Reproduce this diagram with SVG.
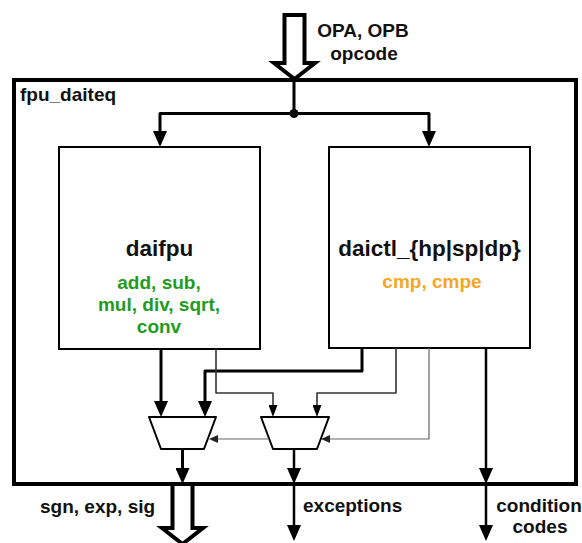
<svg xmlns="http://www.w3.org/2000/svg" width="582" height="543" viewBox="0 0 582 543">
  <style>
    .lbl { font-family: "Liberation Sans", Arial, Helvetica, sans-serif; font-weight: bold; font-size: 19px; fill: #111; }
    .big { font-size: 22.5px; }
    .ops { fill: #1e9c1e; }
    .cmp { fill: #f5a623; }
    .box { fill: #fff; stroke: #000; stroke-width: 2; }
    .outer { fill: none; stroke: #000; stroke-width: 4; }
    .bus { fill: #fff; stroke: #000; stroke-width: 4; stroke-linejoin: miter; }
    .mux { fill: #fff; stroke: #000; stroke-width: 2; stroke-linejoin: round; }
    .thick { fill: none; stroke: #000; stroke-width: 3; stroke-linejoin: round; }
    .mid { fill: none; stroke: #000; stroke-width: 2.5; }
    .thin { fill: none; stroke: #333; stroke-width: 1.6; stroke-linejoin: round; }
    .faint { fill: none; stroke: #666; stroke-width: 1.2; stroke-linejoin: round; }
  </style>
  <defs>
    <marker id="ah" markerUnits="userSpaceOnUse" markerWidth="16" markerHeight="14" viewBox="0 -7 16 14" refX="0" refY="0" orient="auto">
      <path d="M0,-7 L16,0 L0,7 Z" fill="#000"/>
    </marker>
    <marker id="as" markerUnits="userSpaceOnUse" markerWidth="12" markerHeight="9" viewBox="0 -4.5 12 9" refX="0" refY="0" orient="auto">
      <path d="M0,-4.5 L12,0 L0,4.5 Z" fill="#000"/>
    </marker>
    <marker id="at" markerUnits="userSpaceOnUse" markerWidth="9" markerHeight="8" viewBox="0 -4 9 8" refX="0" refY="0" orient="auto">
      <path d="M0,-4 L9,0 L0,4 Z" fill="#222"/>
    </marker>
  </defs>

  <!-- top-level module boundary -->
  <g id="fpu_daiteq">
    <rect class="outer" x="14" y="80" width="562" height="404"/>
    <text class="lbl" x="20" y="101">fpu_daiteq</text>
  </g>

  <!-- operand / opcode input bus -->
  <g id="input_bus">
    <polygon class="bus" points="284.5,15 304.5,15 304.5,63 315,63 294.5,79 274,63 284.5,63"/>
    <text class="lbl" x="363" y="37" text-anchor="middle">OPA, OPB</text>
    <text class="lbl" x="364" y="60" text-anchor="middle">opcode</text>
  </g>

  <!-- arithmetic unit -->
  <g id="daifpu">
    <rect class="box" x="59" y="147" width="201" height="202"/>
    <text class="lbl big" x="159.5" y="256" text-anchor="middle">daifpu</text>
    <text class="lbl ops" x="159" y="289" text-anchor="middle">add, sub,</text>
    <text class="lbl ops" x="159" y="311" text-anchor="middle">mul, div, sqrt,</text>
    <text class="lbl ops" x="159" y="333" text-anchor="middle">conv</text>
  </g>

  <!-- compare unit -->
  <g id="daictl">
    <rect class="box" x="329" y="147" width="201" height="201"/>
    <text class="lbl big" x="429.5" y="256" text-anchor="middle">daictl_{hp|sp|dp}</text>
    <text class="lbl cmp" x="432" y="288" text-anchor="middle">cmp, cmpe</text>
  </g>

  <!-- result multiplexers -->
  <g id="mux_result">
    <polygon class="mux" points="149,417 216,417 204,449 161,449"/>
  </g>
  <g id="mux_exceptions">
    <polygon class="mux" points="261,417 329,417 317,449 273,449"/>
  </g>

  <!-- output bus -->
  <g id="output_bus">
    <polygon class="bus" points="172.5,484 192.5,484 192.5,528 203,528 182.5,544 162,528 172.5,528"/>
    <text class="lbl" x="40" y="513">sgn, exp, sig</text>
  </g>

  <g id="output_labels">
    <text class="lbl" x="303" y="512">exceptions</text>
    <text class="lbl" x="539" y="512" text-anchor="middle">condition</text>
    <text class="lbl" x="540" y="533" text-anchor="middle">codes</text>
  </g>

  <g id="connectors">
    <!-- input fan-out -->
    <path class="thick" d="M294,80 V113.5"/>
    <path class="thick" d="M294,113.5 H160 V131" marker-end="url(#ah)"/>
    <path class="thick" d="M294,113.5 H429 V131" marker-end="url(#ah)"/>
    <circle cx="294" cy="113.5" r="4.5" fill="#000"/>

    <!-- results into the result mux -->
    <path class="thick" d="M161,349 V401" marker-end="url(#ah)"/>
    <path class="thick" d="M362,348 V371 H205 V401" marker-end="url(#ah)"/>

    <!-- exception flags into the exception mux -->
    <path class="thin" d="M216,349 V393 H273 V405" marker-end="url(#as)"/>
    <path class="thin" d="M396,348 V393 H317 V405" marker-end="url(#as)"/>

    <!-- select lines -->
    <path class="faint" d="M429,348 V439 H330" marker-end="url(#at)"/>
    <path class="faint" d="M269,439 H218" marker-end="url(#at)"/>

    <!-- outputs -->
    <path class="thick" d="M182.5,449 V468" marker-end="url(#ah)"/>
    <path class="mid" d="M294,449 V468" marker-end="url(#ah)"/>
    <path class="mid" d="M294,484 V525" marker-end="url(#ah)"/>
    <path class="mid" d="M486,348 V468" marker-end="url(#ah)"/>
    <path class="mid" d="M486,484 V525" marker-end="url(#ah)"/>
  </g>
</svg>
